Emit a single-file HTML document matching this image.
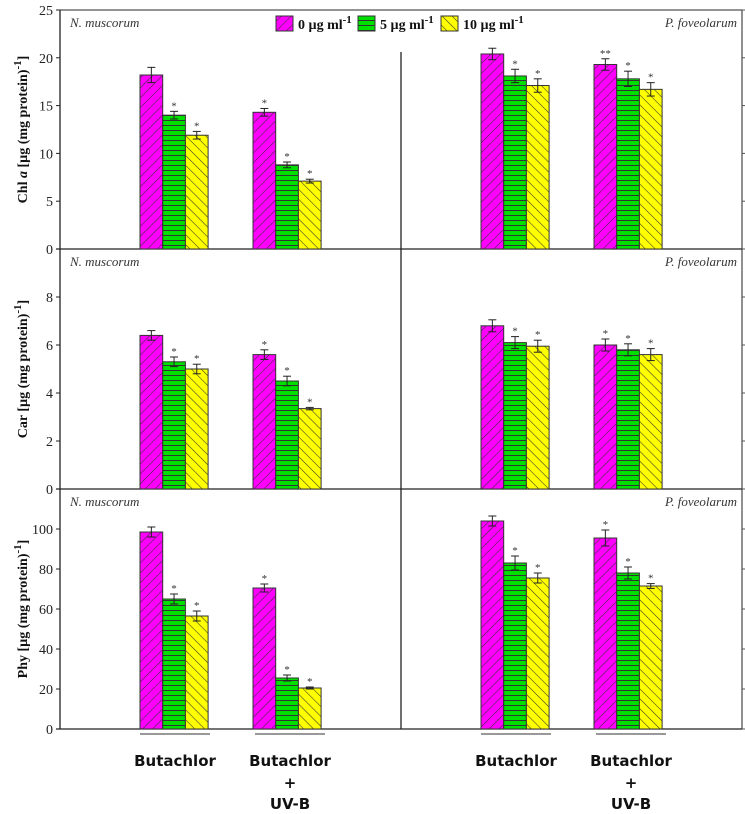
<!DOCTYPE html>
<html><head><meta charset="utf-8"><style>
body{margin:0;background:#fff;width:745px;height:814px;overflow:hidden}
svg{display:block}
text{font-family:"Liberation Serif",serif}
</style></head><body>
<svg id="c" width="745" height="814" xmlns="http://www.w3.org/2000/svg">
<defs>
<pattern id="pPink" patternUnits="userSpaceOnUse" width="7" height="7" patternTransform="rotate(45)"><rect width="7" height="7" fill="#ff00ff"/><line x1="0" y1="0" x2="0" y2="7" stroke="#333" stroke-width="1.1"/></pattern>
<pattern id="pGreen" patternUnits="userSpaceOnUse" width="6" height="5"><rect width="6" height="5" fill="#00e000"/><line x1="0" y1="0.5" x2="6" y2="0.5" stroke="#333" stroke-width="1"/></pattern>
<pattern id="pYellow" patternUnits="userSpaceOnUse" width="7" height="7" patternTransform="rotate(-45)"><rect width="7" height="7" fill="#ffff00"/><line x1="0" y1="0" x2="0" y2="7" stroke="#333" stroke-width="1.1"/></pattern>
</defs>
<g id="frame"></g>
<g id="bars"></g>
</svg>
<script>
// data
const species = ["N. muscorum","P. foveolarum"];
const treatments = ["Butachlor","Butachlor + UV-B"];
const doses = ["0 µg ml-1","5 µg ml-1","10 µg ml-1"];
const chlValues = [[[18.2,14.0,11.9],[14.3,8.8,7.1]],[[20.4,18.1,17.1],[19.3,17.8,16.7]]];
const chlErrors = [[[0.8,0.4,0.4],[0.4,0.3,0.2]],[[0.6,0.7,0.7],[0.6,0.8,0.7]]];
const chlStars = [[["","*","*"],["*","*","*"]],[["","*","*"],["**","*","*"]]];
const carValues = [[[6.4,5.3,5.0],[5.6,4.5,3.35]],[[6.8,6.1,5.95],[6.0,5.8,5.6]]];
const carErrors = [[[0.2,0.2,0.2],[0.2,0.2,0.05]],[[0.25,0.25,0.25],[0.25,0.25,0.25]]];
const carStars = [[["","*","*"],["*","*","*"]],[["","*","*"],["*","*","*"]]];
const phyValues = [[[98.5,65,56.5],[70.5,25.5,20.5]],[[104,83,75.5],[95.5,78,71.5]]];
const phyErrors = [[[2.5,2.5,2.5],[2,1.5,0.5]],[[2.5,3.5,2.5],[4,3,1.2]]];
const phyStars = [[["","*","*"],["*","*","*"]],[["","*","*"],["*","*","*"]]];
const chlTicks = [0,5,10,15,20,25];
const carTicks = [0,2,4,6,8];
const phyTicks = [0,20,40,60,80,100];

const NS="http://www.w3.org/2000/svg";
const frame=document.getElementById('frame'), gb=document.getElementById('bars');
function mk(tag,attrs,parent,txt){const e=document.createElementNS(NS,tag);for(const k in attrs)e.setAttribute(k,attrs[k]);if(txt!==undefined)e.textContent=txt;parent.appendChild(e);return e;}
const fills=["url(#pPink)","url(#pGreen)","url(#pYellow)"];
const panels=[
 {vals:chlValues,errs:chlErrors,stars:chlStars,ticks:chlTicks,max:25,top:10,bot:249,name:'chl',title:['Chl ','a',' [µg (mg protein)','-1',']']},
 {vals:carValues,errs:carErrors,stars:carStars,ticks:carTicks,max:10,top:249,bot:489,name:'car',title:['Car [µg (mg protein)','','','-1',']']},
 {vals:phyValues,errs:phyErrors,stars:phyStars,ticks:phyTicks,max:120,top:489,bot:729,name:'phy',title:['Phy [µg (mg protein)','','','-1',']']}
];
const L=60,M=401,R=742,bw=22.7;
// frame
mk('line',{x1:L,y1:10,x2:R,y2:10,stroke:'#555','stroke-width':1.3},frame);
mk('line',{x1:L,y1:10,x2:L,y2:729,stroke:'#222','stroke-width':1.3},frame);
mk('line',{x1:R,y1:10,x2:R,y2:729,stroke:'#555','stroke-width':1.3},frame);
mk('line',{x1:M,y1:52,x2:M,y2:729,stroke:'#222','stroke-width':1.3},frame);
panels.forEach((p,pi)=>{
 const y=v=>p.bot-(v/p.max)*(p.bot-p.top);
 mk('line',{x1:L-4,y1:p.bot,x2:R,y2:p.bot,stroke:'#222','stroke-width':1.3},frame);
 p.ticks.forEach(t=>{
  const yy=y(t);
  mk('line',{x1:L-4,y1:yy,x2:L,y2:yy,stroke:'#222'},frame);
  mk('line',{x1:R,y1:yy,x2:R+4,y2:yy,stroke:'#555'},frame);
  const tl=mk('text',{x:L-7,y:yy+5,'text-anchor':'end','font-size':14,fill:'#222'},frame,t);
  
  
 });
 const cy=(p.top+p.bot)/2;
 const tt=mk('text',{transform:`translate(27,${cy}) rotate(-90)`,'text-anchor':'middle','font-size':14,'font-weight':'bold',fill:'#111'},frame);
 
 
 mk('tspan',{},tt,p.title[0]);
 if(p.title[1])mk('tspan',{'font-style':'italic'},tt,p.title[1]);
 if(p.title[2])mk('tspan',{},tt,p.title[2]);
 mk('tspan',{dy:-6,'font-size':11},tt,p.title[3]);
 mk('tspan',{dy:6},tt,p.title[4]);
 // species labels
 const s1=mk('text',{x:70,y:p.top+17,'font-size':13,'font-style':'italic',fill:'#333'},frame,species[0]);
 
 const s2=mk('text',{x:737,y:p.top+17,'text-anchor':'end','font-size':13,'font-style':'italic',fill:'#333'},frame,species[1]);
 
 for(let s=0;s<2;s++)for(let g=0;g<2;g++)for(let d=0;d<3;d++){
  const v=p.vals[s][g][d],e=p.errs[s][g][d];
  const x=(s?M:L)+80+g*113+d*bw;
  const r=mk('rect',{x:x,y:y(v),width:bw,height:p.bot-y(v),fill:fills[d],stroke:'#333','stroke-width':1},gb);
  
  
  const cx=x+bw/2;
  mk('line',{x1:cx,y1:y(v+e),x2:cx,y2:y(v-e),stroke:'#222'},gb);
  mk('line',{x1:cx-4,y1:y(v+e),x2:cx+4,y2:y(v+e),stroke:'#222'},gb);
  mk('line',{x1:cx-4,y1:y(v-e),x2:cx+4,y2:y(v-e),stroke:'#222'},gb);
  const st=p.stars[s][g][d];
  if(st){const t=mk('text',{x:cx,y:y(v+e)-2,'text-anchor':'middle','font-size':11,fill:'#333'},gb,st);
   }
 }
});
// group underlines and labels
for(let s=0;s<2;s++)for(let g=0;g<2;g++){
 const x0=(s?M:L)+80+g*113+(g?2:0);
 mk('line',{x1:x0,y1:734,x2:x0+70,y2:734,stroke:'#333'},frame);
 const cx=x0+35;
 const t=mk('text',{x:cx,y:766,'text-anchor':'middle','font-size':15,'font-weight':'bold',style:'font-family:"DejaVu Sans","Liberation Sans",sans-serif',fill:'#111'},frame,'Butachlor');
 
 if(g){
  mk('text',{x:cx,y:788,'text-anchor':'middle','font-size':15,'font-weight':'bold',style:'font-family:"DejaVu Sans",sans-serif',fill:'#111'},frame,'+');
  mk('text',{x:cx,y:809,'text-anchor':'middle','font-size':15,'font-weight':'bold',style:'font-family:"DejaVu Sans",sans-serif',fill:'#111'},frame,'UV-B');
 }
}
// legend
const lg=mk('g',{},frame);

const lx=[276,358,441],lab=['0 µg ml','5 µg ml','10 µg ml'];
for(let d=0;d<3;d++){
 const r=mk('rect',{x:lx[d],y:16,width:17,height:15,fill:fills[d],stroke:'#333'},lg);
 
 const t=mk('text',{x:lx[d]+22,y:29,'font-size':14,'font-weight':'bold',fill:'#111'},lg);
 
 mk('tspan',{},t,lab[d]);mk('tspan',{dy:-6,'font-size':11},t,'-1');
}
</script>
</body></html>
